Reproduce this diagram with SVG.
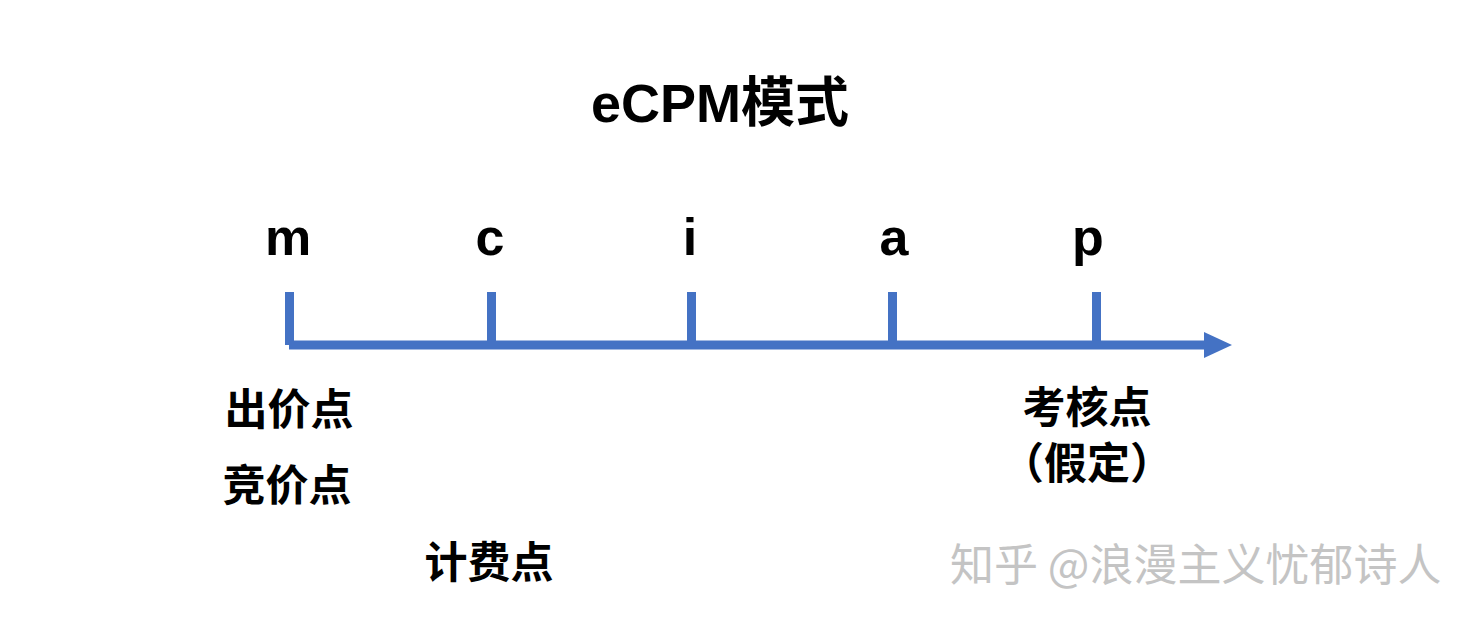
<svg xmlns="http://www.w3.org/2000/svg" width="1480" height="626" viewBox="0 0 1480 626">
<style>
.t{font-family:"Liberation Sans","Noto Sans CJK SC",sans-serif;font-weight:bold;fill:#000}
.cjk{font-family:"Noto Sans CJK SC","Liberation Sans",sans-serif;font-weight:bold;fill:#000;font-size:43px;text-anchor:middle}
.lbl{font-size:52px;text-anchor:middle}
.ln{stroke:#4472C4;stroke-width:9;fill:none}
.wm{font-family:"Noto Sans CJK SC",sans-serif;font-size:44px;fill:#c4c4c4}
</style>
<defs>
<marker id="ah" markerUnits="userSpaceOnUse" markerWidth="30" markerHeight="28" refX="0" refY="13" orient="auto">
<path d="M0,0 L28,13 L0,26 Z" fill="#4472C4"/>
</marker>
</defs>
<rect width="1480" height="626" fill="#fff"/>
<text class="t" x="720" y="122" font-size="54" text-anchor="middle">eCPM模式</text>
<g id="connectors">
<line class="ln" x1="289" y1="345" x2="1204" y2="345" marker-end="url(#ah)"/>
</g>
<g id="m"><line class="ln" x1="289.5" y1="292" x2="289.5" y2="345"/><text class="t lbl" x="288" y="255">m</text></g>
<g id="c"><line class="ln" x1="491.5" y1="292" x2="491.5" y2="345"/><text class="t lbl" x="490" y="255">c</text></g>
<g id="i"><line class="ln" x1="691.5" y1="292" x2="691.5" y2="345"/><text class="t lbl" x="690" y="255">i</text></g>
<g id="a"><line class="ln" x1="892.5" y1="292" x2="892.5" y2="345"/><text class="t lbl" x="894" y="255">a</text></g>
<g id="p"><line class="ln" x1="1096.5" y1="292" x2="1096.5" y2="345"/><text class="t lbl" x="1088" y="255">p</text></g>
<g id="bid"><text class="cjk" x="289" y="425">出价点</text></g>
<g id="auction"><text class="cjk" x="287" y="501">竞价点</text></g>
<g id="charge"><text class="cjk" x="489" y="578">计费点</text></g>
<g id="assess"><text class="cjk" x="1087" y="423">考核点</text><text class="cjk" x="1087" y="479">（假定）</text></g>
<text class="wm" x="950" y="581">知乎 @浪漫主义忧郁诗人</text>
</svg>
